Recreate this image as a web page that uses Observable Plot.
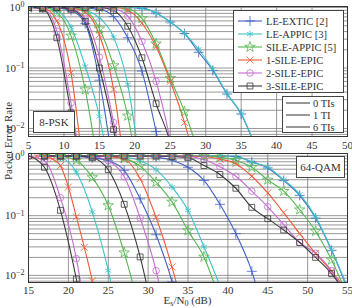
<!DOCTYPE html>
<html>
<head>
<meta charset="utf-8">
<script src="https://cdn.jsdelivr.net/npm/d3@7"></script>
<script src="https://cdn.jsdelivr.net/npm/@observablehq/plot@0.6"></script>
<style>
  body { margin: 0; background: #fff; }
  #chart { position: relative; width: 352px; height: 308px; font-family: "Liberation Serif", "DejaVu Serif", serif; color: #333; overflow: hidden; }
  #chart svg { position: absolute; left: 0; overflow: visible; }
  .ylab { position: absolute; left: 8px; top: 141px; transform: translate(-50%, -50%) rotate(-90deg); font-size: 11px; white-space: nowrap; }
</style>
</head>
<body>
<div id="chart"></div>
<script>
// Receivers, their colours and markers
const methods = ["LE-EXTIC [2]", "LE-APPIC [3]", "SILE-APPIC [5]", "1-SILE-EPIC", "2-SILE-EPIC", "3-SILE-EPIC"];
const methodColors = ["#3f60c4", "#3cc3c6", "#55b650", "#ee5a3a", "#c46ccf", "#3a3a3a"];
const methodSymbols = ["plus", "asterisk", "star", "times", "circle", "square"];
const iterations = ["0 TIs", "1 TI", "6 TIs"];

// Axis ticks
const pskTicks = [5, 10, 15, 20, 25, 30, 35, 40, 45, 50];
const qamTicks = [15, 20, 25, 30, 35, 40, 45, 50, 55];
const perTicks = [0.01, 0.1, 1];

// 8-PSK: [Es/N0 (dB), PER] for each receiver, in the order of `methods`
const psk0 = [
  [[5,1],[7,1],[9,1],[11,1],[13,1],[15,1],[17,1],[19,1],[21,0.977],[23,0.813],[25,0.575],[27,0.372],[29,0.182],[31,0.0912],[33,0.0372],[35,0.0174],[37,0.005]],
  [[5,1],[7,1],[9,1],[11,1],[13,1],[15,1],[17,1],[19,1],[21,0.977],[23,0.813],[25,0.575],[27,0.372],[29,0.204],[31,0.0955],[33,0.038],[35,0.0178],[37,0.005]],
  [[5,1],[7,1],[9,1],[11,1],[13,1],[15,1],[17,1],[19,0.955],[21,0.661],[23,0.251],[25,0.0676],[27,0.0191],[29,0.004]],
  [[5,1],[7,1],[9,1],[11,1],[13,1],[15,1],[17,1],[19,0.912],[21,0.55],[23,0.224],[25,0.0603],[27,0.0126],[29,0.0016]],
  [[5,1],[7,1],[9,1],[11,1],[13,1],[15,1],[17,0.955],[19,0.724],[21,0.275],[23,0.0603],[25,0.0063],[27,0.0003]],
  [[5,1],[7,1],[9,1],[11,1],[13,1],[15,1],[17,0.891],[19,0.49],[21,0.148],[23,0.0257],[25,0.0058],[27,0.0004]]
];
const psk1 = [
  [[5,1],[7,1],[9,1],[11,1],[13,0.977],[15,0.933],[17,0.708],[19,0.316],[21,0.0891],[23,0.0089],[25,0.0006]],
  [[5,1],[7,1],[9,1],[11,1],[13,0.912],[15,0.676],[17,0.324],[19,0.0537],[21,0.0014]],
  [[5,1],[7,1],[9,1],[11,1],[13,0.891],[15,0.447],[17,0.11],[19,0.0162],[21,0.0007]],
  [[5,1],[7,1],[9,1],[11,0.977],[13,0.832],[15,0.355],[17,0.0447],[19,0.0008]],
  [[5,1],[7,1],[9,1],[11,0.955],[13,0.661],[15,0.151],[17,0.0126],[19,0.0006]],
  [[5,1],[7,1],[9,1],[11,0.933],[13,0.589],[15,0.1],[17,0.0096],[19,0.0004]]
];
const psk6 = [
  [[5,1],[7,1],[9,0.98],[11,0.89],[13,0.54],[15,0.063],[17,0.0021]],
  [[5,1],[7,1],[9,0.89],[11,0.47],[13,0.107],[15,0.0158],[17,0.0008]],
  [[5,1],[7,1],[9,0.83],[11,0.34],[13,0.044],[15,0.0017]],
  [[5,1],[7,0.99],[9,0.6],[11,0.083],[13,0.001]],
  [[5,1],[7,0.97],[9,0.407],[11,0.0263],[13,0.0007]],
  [[5,1],[7,0.95],[9,0.316],[11,0.0182],[13,0.0009]]
];

// 64-QAM
const qam0 = [
  [[17,1],[19,1],[21,1],[23,1],[25,1],[27,1],[29,1],[31,1],[33,1],[35,1],[37,1],[39,1],[41,0.977],[43,0.794],[45,0.631],[47,0.389],[49,0.219],[51,0.0912],[53,0.0263],[55,0.006]],
  [[17,1],[19,1],[21,1],[23,1],[25,1],[27,1],[29,1],[31,1],[33,1],[35,1],[37,1],[39,1],[41,0.977],[43,0.794],[45,0.646],[47,0.398],[49,0.229],[51,0.0955],[53,0.0269],[55,0.0063]],
  [[17,1],[19,1],[21,1],[23,1],[25,1],[27,1],[29,1],[31,1],[33,1],[35,1],[37,1],[39,0.955],[41,0.851],[43,0.646],[45,0.398],[47,0.257],[49,0.126],[51,0.055],[53,0.0182],[55,0.0045]],
  [[17,1],[19,1],[21,1],[23,1],[25,1],[27,1],[29,1],[31,1],[33,1],[35,1],[37,0.977],[39,0.891],[41,0.741],[43,0.457],[45,0.24],[47,0.112],[49,0.0501],[51,0.0234],[53,0.0117],[55,0.0054]],
  [[17,1],[19,1],[21,1],[23,1],[25,1],[27,1],[29,1],[31,1],[33,1],[35,0.977],[37,0.871],[39,0.661],[41,0.457],[43,0.257],[45,0.141],[47,0.0708],[49,0.0355],[51,0.0234],[53,0.012],[55,0.004]],
  [[17,1],[19,1],[21,1],[23,1],[25,1],[27,1],[29,1],[31,1],[33,0.977],[35,0.933],[37,0.692],[39,0.49],[41,0.288],[43,0.138],[45,0.0891],[47,0.0575],[49,0.0355],[51,0.02],[53,0.0107],[55,0.0045]]
];
const qam1 = [
  [[17,1],[19,1],[21,1],[23,1],[25,1],[27,1],[29,1],[31,0.955],[33,0.851],[35,0.646],[37,0.389],[39,0.155],[41,0.0501],[43,0.0117],[45,0.0013]],
  [[17,1],[19,1],[21,1],[23,1],[25,1],[27,0.955],[29,0.832],[31,0.589],[33,0.302],[35,0.123],[37,0.0302],[39,0.0066],[41,0.001]],
  [[17,1],[19,1],[21,1],[23,1],[25,1],[27,0.912],[29,0.676],[31,0.363],[33,0.17],[35,0.0562],[37,0.0204],[39,0.0039],[41,0.0006]],
  [[17,1],[19,1],[21,1],[23,1],[25,0.977],[27,0.891],[29,0.417],[31,0.0933],[33,0.0138],[35,0.0013]],
  [[17,1],[19,1],[21,1],[23,0.977],[25,0.832],[27,0.447],[29,0.0912],[31,0.012],[33,0.0006]],
  [[17,1],[19,1],[21,1],[23,0.933],[25,0.589],[27,0.155],[29,0.0204],[31,0.0013]]
];
const qam6 = [
  [[17,1],[19,1],[21,0.977],[23,0.933],[25,0.832],[27,0.575],[29,0.191],[31,0.0479],[33,0.0078],[35,0.0006]],
  [[17,1],[19,0.933],[21,0.537],[23,0.115],[25,0.012],[27,0.0005]],
  [[17,1],[19,0.977],[21,0.851],[23,0.437],[25,0.148],[27,0.024],[29,0.0025]],
  [[16,1],[17,0.98],[18,0.89],[19,0.69],[20,0.302],[21,0.0955],[22,0.0295],[23,0.0081],[24,0.0016]],
  [[15,1],[17,0.832],[19,0.2],[21,0.0191],[23,0.0004]],
  [[15,1],[17,0.646],[19,0.123],[21,0.0087],[23,0.0003]]
];

const chart = document.getElementById("chart");
const font = '"Liberation Serif", "DejaVu Serif", serif';
const gridColor = "#7e7e7e";

// One tidy row per point; series drawn receiver by receiver
function buildRows(sets) {
  const rows = [];
  methods.forEach((method, m) => {
    sets.forEach((set, t) => {
      for (const [snr, per] of set[m]) rows.push({snr, per, method, iter: iterations[t], key: `${m}-${t}`});
    });
  });
  return rows;
}

// Log grid lines: 1..9 times each decade inside the domain
function logGrid([lo, hi]) {
  const out = [];
  for (let e = -3; e <= 0; e++) for (let k = 1; k <= 9; k++) {
    const v = k * Math.pow(10, e);
    if (v >= lo && v <= hi * 1.0001) out.push(v);
  }
  return out;
}

function panel(sets, {xDomain, xTicks, yDomain, height, marginTop, marginBottom, xPad}) {
  const rows = buildRows(sets);
  const svg = Plot.plot({
    width: 352, height, marginLeft: 28, marginRight: 5, marginTop, marginBottom,
    style: {fontFamily: font, fontSize: "11px", color: "#333", background: "transparent", overflow: "visible"},
    x: {domain: xDomain, ticks: xTicks, tickSize: 0, tickPadding: xPad, label: null},
    y: {type: "log", domain: yDomain, ticks: perTicks, tickFormat: v => String(Math.round(Math.log10(v))), tickSize: 0, tickPadding: 4, label: null},
    color: {domain: methods, range: methodColors},
    symbol: {domain: methods, range: methodSymbols},
    marks: [
      Plot.ruleY(logGrid(yDomain), {stroke: gridColor, strokeWidth: 0.8}),
      Plot.ruleX(xTicks, {stroke: gridColor, strokeWidth: 0.8}),
      Plot.line(rows, {x: "snr", y: "per", z: "key", stroke: "method", strokeWidth: 1.1, curve: "monotone-x", clip: true}),
      Plot.dot(rows, {x: "snr", y: "per", symbol: "method", stroke: "method", fill: "none", r: 3.3, strokeWidth: 0.8, clip: true}),
      Plot.frame({stroke: "#333", strokeWidth: 1})
    ]
  });
  // y tick labels as powers of ten
  svg.querySelectorAll('[aria-label^="y-axis"] text').forEach(t => {
    const e = t.textContent.trim();
    if (!/^[-−]?\d+$/.test(e)) return;
    t.textContent = "";
    const ns = "http://www.w3.org/2000/svg";
    const base = document.createElementNS(ns, "tspan");
    base.textContent = "10";
    const sup = document.createElementNS(ns, "tspan");
    sup.setAttribute("dy", "-0.45em");
    sup.setAttribute("font-size", "8px");
    sup.textContent = e.replace("-", "−");
    t.append(base, sup);
  });
  return svg;
}

const pskPanel = panel([psk0, psk1, psk6], {xDomain: [5, 50], xTicks: pskTicks, yDomain: [0.00738, 1.039], height: 150, marginTop: 6, marginBottom: 14, xPad: 5});
pskPanel.style.top = "0px";
chart.append(pskPanel);

const qamPanel = panel([qam0, qam1, qam6], {xDomain: [15, 55], xTicks: qamTicks, yDomain: [0.0076, 1.10], height: 161, marginTop: 6, marginBottom: 26, xPad: 3.5});
qamPanel.style.top = "147px";
chart.append(qamPanel);

// Legends, panel tags and the x-axis title
const overlay = d3.select(chart).append("svg")
  .attr("width", 352).attr("height", 308)
  .style("top", "0px").style("pointer-events", "none")
  .style("font-family", font).style("fill", "#333");

const d3Symbols = {
  plus: d3.symbolPlus || d3.symbolCross, asterisk: d3.symbolAsterisk || d3.symbolCross,
  star: d3.symbolStar, times: d3.symbolTimes || d3.symbolCross,
  circle: d3.symbolCircle, square: d3.symbolSquare
};

function box(x, y, w, h) {
  overlay.append("rect").attr("x", x).attr("y", y).attr("width", w).attr("height", h)
    .attr("fill", "#fff").attr("stroke", "#444").attr("stroke-width", 1);
}

box(233.5, 10.5, 110, 82);
methods.forEach((m, i) => {
  const y = 21 + 13 * i;
  overlay.append("line").attr("x1", 238).attr("x2", 262).attr("y1", y).attr("y2", y)
    .attr("stroke", methodColors[i]).attr("stroke-width", 1.1);
  overlay.append("path")
    .attr("d", d3.symbol(d3Symbols[methodSymbols[i]], Math.PI * 3.3 * 3.3)())
    .attr("transform", `translate(250,${y})`)
    .attr("fill", "none").attr("stroke", methodColors[i]).attr("stroke-width", 0.8);
  overlay.append("text").attr("x", 266).attr("y", y).attr("dy", "0.35em")
    .attr("font-size", "10.5px").text(m);
});

box(282.5, 96.5, 61, 36);
iterations.forEach((label, i) => {
  const y = 103 + 12 * i;
  overlay.append("line").attr("x1", 286).attr("x2", 310).attr("y1", y).attr("y2", y)
    .attr("stroke", "#333").attr("stroke-width", 1);
  overlay.append("text").attr("x", 313).attr("y", y).attr("dy", "0.35em")
    .attr("font-size", "10.5px").text(label);
});

box(33.5, 111.5, 41, 21);
overlay.append("text").attr("x", 54).attr("y", 122).attr("dy", "0.35em")
  .attr("text-anchor", "middle").attr("font-size", "11px").text("8-PSK");

box(296.5, 156.5, 48, 21);
overlay.append("text").attr("x", 320.5).attr("y", 167).attr("dy", "0.35em")
  .attr("text-anchor", "middle").attr("font-size", "11px").text("64-QAM");

// Es/N0 (dB) with subscripts
const xt = overlay.append("text").attr("x", 187.5).attr("y", 304)
  .attr("text-anchor", "middle").attr("font-size", "11px");
xt.append("tspan").text("E");
xt.append("tspan").attr("font-size", "8px").attr("dy", "2").text("s");
xt.append("tspan").attr("dy", "-2").text("/N");
xt.append("tspan").attr("font-size", "8px").attr("dy", "2").text("0");
xt.append("tspan").attr("dy", "-2").text(" (dB)");

// y-axis title
const ylab = document.createElement("div");
ylab.className = "ylab";
ylab.textContent = "Packet Error Rate";
chart.append(ylab);
</script>
</body>
</html>
